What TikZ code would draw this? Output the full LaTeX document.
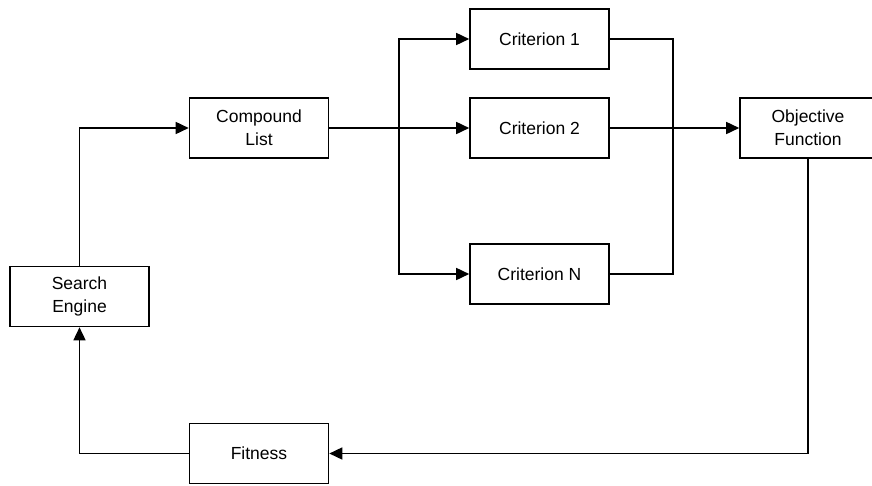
\documentclass[tikz,border=0pt]{standalone}
\usepackage{fontspec}
\setmainfont{Liberation Sans}
\usetikzlibrary{arrows.meta}
\begin{document}
\begin{tikzpicture}[x=1pt,y=-1pt,
  box/.style={draw,line width=1.6pt,minimum width=139pt,minimum height=60pt,inner sep=0pt,align=center,font=\fontsize{17.5}{23}\selectfont},
  conn/.style={line width=1.6pt,-{Triangle[length=13pt,width=12pt]}},
  plain/.style={line width=1.6pt}]
\useasboundingbox (0,0) rectangle (872,485);
\node[box] (se) at (79.5,296.5) {Search\\Engine};
\node[box] (cl) at (259,128) {Compound\\List};
\node[box] (c1) at (539.5,39) {Criterion 1};
\node[box] (c2) at (539.5,128) {Criterion 2};
\node[box] (cn) at (539.5,274) {Criterion N};
\node[box,minimum width=136pt] (of) at (808,128) {Objective\\Function};
\node[box] (fi) at (259,453.5) {Fitness};
\coordinate (j) at (399,128);
\coordinate (k) at (673,128);
\draw[conn] (se.north) |- (cl.west);
\draw[conn] (cl.east) -- (c2.west);
\draw[conn] (j) |- (c1.west);
\draw[conn] (j) |- (cn.west);
\draw[plain] (c1.east) -| (k);
\draw[plain] (cn.east) -| (k);
\draw[conn] (c2.east) -- (of.west);
\draw[conn] (of.south) |- (fi.east);
\draw[conn] (fi.west) -| (se.south);
\end{tikzpicture}
\end{document}
